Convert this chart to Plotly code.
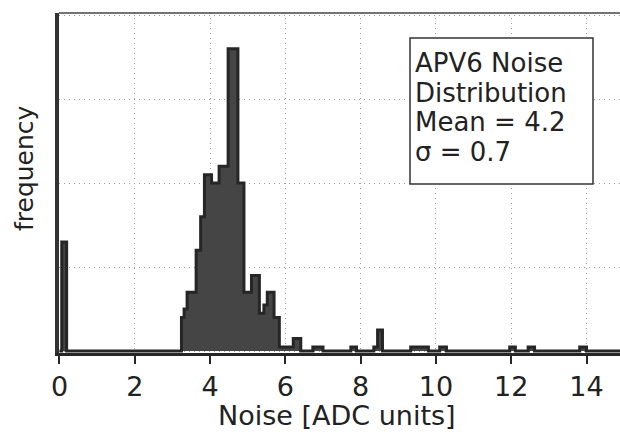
import plotly.graph_objects as go

# Histogram profile: step edges (ADC units) and frequency in each step
bin_edges = [0.0, 0.06, 0.19, 3.24, 3.31, 3.39, 3.63, 3.75, 3.85, 4.04, 4.24, 4.48, 4.74,
             4.90, 5.10, 5.31, 5.43, 5.52, 5.70, 5.84, 6.21, 6.41, 6.73, 7.00, 7.74, 7.89,
             8.35, 8.45, 8.58, 9.33, 9.80, 10.10, 10.28, 11.96, 12.11, 12.45, 12.62, 13.82,
             14.00, 14.89]
counts = [0, 26, 0, 8, 10, 14, 24, 32, 42, 40, 44, 72, 40, 14, 18, 9, 11, 14, 8, 1, 3, 0,
          1, 0, 1, 0, 1, 5, 0, 1, 0, 1, 0, 1, 0, 1, 0, 1, 0]

x_ticks = [0, 2, 4, 6, 8, 10, 12, 14]
box_lines = ["APV6 Noise", "Distribution", "Mean = 4.2", "σ = 0.7"]

FONT = "DejaVu Sans"
INK = "#262626"

fig = go.Figure()
fig.add_trace(go.Scatter(
    x=bin_edges, y=counts + [counts[-1]],
    mode="lines", line=dict(shape="hv", color=INK, width=3),
    fill="tozeroy", fillcolor="#454545", hoverinfo="skip", showlegend=False,
))

# geometry
W, H = 620, 444
ml, mr, mt, mb = 59, 0, 13, 91
pw, ph = W - ml - mr, H - mt - mb

def px(xp):
    return (xp - ml) / pw

def py(yp):
    return (H - mb - yp) / ph

fig.update_layout(
    width=W, height=H,
    margin=dict(l=ml, r=mr, t=mt, b=mb, pad=0),
    paper_bgcolor="white", plot_bgcolor="white",
    font=dict(family=FONT, color="#222"),
    xaxis=dict(
        range=[-0.013, 14.89], tickvals=x_ticks, ticktext=[str(v) for v in x_ticks],
        ticks="outside", ticklen=8, tickwidth=2, tickcolor=INK,
        showline=True, linewidth=3, linecolor=INK,
        showgrid=True, gridcolor="#9a9a9a", gridwidth=1, griddash="1px,4px",
        tickfont=dict(family=FONT, size=27, color="#222"), zeroline=False,
    ),
    yaxis=dict(
        range=[-0.45, 80.48], dtick=20, showticklabels=False, ticks="",
        showline=True, linewidth=4, linecolor="#333",
        showgrid=True, gridcolor="#9a9a9a", gridwidth=1, griddash="1px,4px",
        zeroline=False,
    ),
)

# top frame line
fig.add_shape(type="line", xref="paper", yref="paper", x0=0, x1=1, y0=1, y1=1,
              line=dict(color="#444", width=1.5))

# text box
fig.add_shape(type="rect", xref="paper", yref="paper",
              x0=px(410), x1=px(593), y0=py(184), y1=py(38),
              line=dict(color="#333", width=1.5), fillcolor="white", layer="above")
for txt, yc in zip(box_lines, [63, 93, 122.5, 152]):
    fig.add_annotation(text=txt, xref="paper", yref="paper", x=px(413), y=py(yc),
                       xanchor="left", yanchor="middle", showarrow=False,
                       font=dict(family=FONT, size=26, color="#222"))

# axis titles
fig.add_annotation(text="frequency", xref="paper", yref="paper", x=px(24), y=py(168),
                   xanchor="center", yanchor="middle", textangle=-90, showarrow=False,
                   font=dict(family=FONT, size=25, color="#222"))
fig.add_annotation(text="Noise [ADC units]", xref="paper", yref="paper", x=px(337), y=py(415),
                   xanchor="center", yanchor="middle", showarrow=False,
                   font=dict(family=FONT, size=27, color="#222"))

fig.write_html("out.html")
